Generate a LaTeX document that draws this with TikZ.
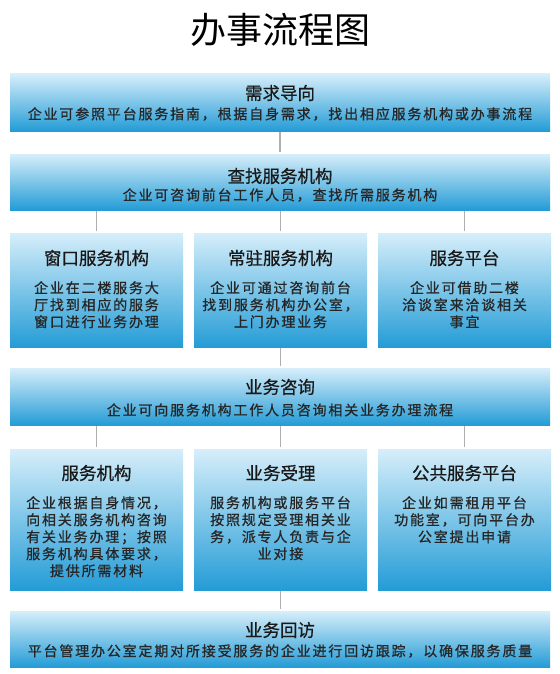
\documentclass[tikz,border=0pt]{standalone}
\usepackage{fontspec}
\newfontfamily\cjk{Noto Sans CJK SC}
\newfontfamily\cjkhead[FakeBold=0.6]{Noto Sans CJK SC}
\newfontfamily\cjkwide[LetterSpace=13, FakeBold=0.8]{Noto Sans CJK SC}
\definecolor{boxtop}{RGB}{214,238,250}
\definecolor{boxbot}{RGB}{36,156,214}
\definecolor{linkgray}{RGB}{175,175,175}

\begin{document}
\begin{tikzpicture}[x=1pt, y=-1pt,
    bar/.style={top color=boxtop, bottom color=boxbot, minimum width=540pt, inner sep=0pt},
    cell/.style={top color=boxtop, bottom color=boxbot, minimum width=173pt, inner sep=0pt},
    head/.style={font=\cjkhead\fontsize{17.5}{20}\selectfont, text=black!90, inner sep=0pt},
    body/.style={font=\cjkwide\fontsize{14}{17}\selectfont, text=black!85, align=center, inner sep=0pt},
    link/.style={draw=linkgray, line width=1.5pt, shorten <=1pt, shorten >=2pt}]
    \useasboundingbox (0,0) rectangle (559,674);

    % Title
    \node[font=\cjk\fontsize{36}{40}\selectfont] (title) at (280,30) {办事流程图};

    % Wide steps
    \node[bar, minimum height=57pt] (need) at (280,102.5) {};
    \node[bar, minimum height=56pt] (find) at (280,182) {};
    \node[bar, minimum height=57pt] (ask) at (280,396.5) {};
    \node[bar, minimum height=56pt] (visit) at (280,639) {};

    % First row of choices
    \node[cell, minimum height=114pt] (win) at (96.5,290) {};
    \node[cell, minimum height=114pt] (res) at (280.5,290) {};
    \node[cell, minimum height=114pt] (plat) at (464.5,290) {};

    % Second row of choices
    \node[cell, minimum height=141pt] (org) at (96.5,519.5) {};
    \node[cell, minimum height=141pt] (acc) at (280.5,519.5) {};
    \node[cell, minimum height=141pt] (pub) at (464.5,519.5) {};

    % Texts of the wide steps
    \node[head] (needH) at (280,93) {需求导向};
    \node[body] (needB) at (280,114) {企业可参照平台服务指南，根据自身需求，找出相应服务机构或办事流程};
    \node[head] (findH) at (280,176) {查找服务机构};
    \node[body] (findB) at (280,195) {企业可咨询前台工作人员，查找所需服务机构};
    \node[head] (askH) at (280,387) {业务咨询};
    \node[body] (askB) at (280,410) {企业可向服务机构工作人员咨询相关业务办理流程};
    \node[head] (visitH) at (280,630) {业务回访};
    \node[body] (visitB) at (280,651) {平台管理办公室定期对所接受服务的企业进行回访跟踪，以确保服务质量};

    % Texts of the first row
    \node[head] (winH) at (96.5,258) {窗口服务机构};
    \node[body, anchor=north] (winB) at (96.5,281) {企业在二楼服务大\\厅找到相应的服务\\窗口进行业务办理};
    \node[head] (resH) at (280.5,258) {常驻服务机构};
    \node[body, anchor=north] (resB) at (280.5,281) {企业可通过咨询前台\\找到服务机构办公室，\\上门办理业务};
    \node[head] (platH) at (464.5,258) {服务平台};
    \node[body, anchor=north] (platB) at (464.5,281) {企业可借助二楼\\洽谈室来洽谈相关\\事宜};

    % Texts of the second row
    \node[head] (orgH) at (96.5,473) {服务机构};
    \node[body, anchor=north] (orgB) at (96.5,496) {企业根据自身情况，\\向相关服务机构咨询\\有关业务办理；按照\\服务机构具体要求，\\提供所需材料};
    \node[head] (accH) at (280.5,473) {业务受理};
    \node[body, anchor=north] (accB) at (280.5,496) {服务机构或服务平台\\按照规定受理相关业\\务，派专人负责与企\\业对接};
    \node[head] (pubH) at (464.5,473) {公共服务平台};
    \node[body, anchor=north] (pubB) at (464.5,496) {企业如需租用平台\\功能室，可向平台办\\公室提出申请};

    % Connectors
    \draw[link] (need.south) -- (find.north);
    \foreach \c in {win,res,plat}
        \draw[link] (find.south -| \c.north) -- (\c.north);
    \draw[link] (res.south) -- (res.south |- ask.north);
    \foreach \c in {org,acc,pub}
        \draw[link] (ask.south -| \c.north) -- (\c.north);
    \draw[link] (acc.south) -- (acc.south |- visit.north);
\end{tikzpicture}
\end{document}
